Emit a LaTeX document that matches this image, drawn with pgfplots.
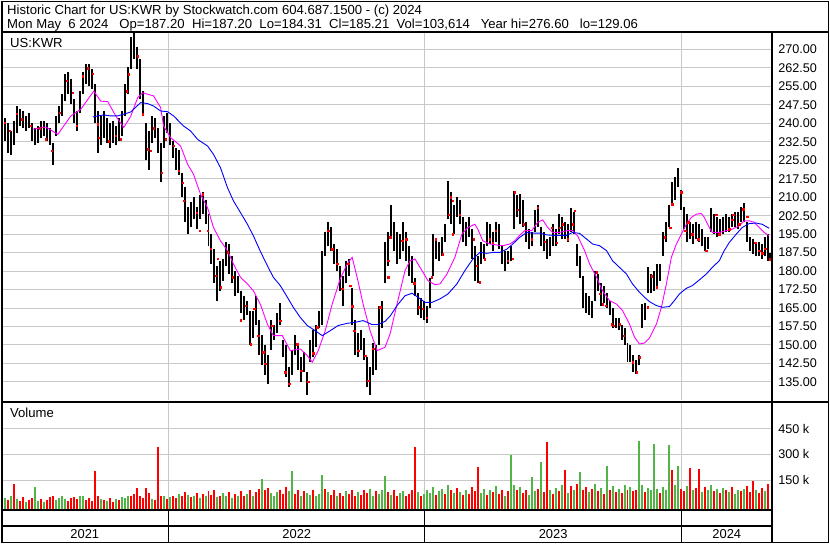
\documentclass[border=0pt]{standalone}
\usepackage{fontspec}
\setmainfont{Liberation Sans}
\usepackage{pgfplots}
\usepackage{pgfplotstable}
\pgfplotsset{compat=1.18}
\definecolor{gridgray}{RGB}{200,200,200}
\definecolor{vred}{RGB}{255,0,0}
\definecolor{vgreen}{RGB}{80,180,70}
\definecolor{magline}{RGB}{255,0,255}
\definecolor{blueline}{RGB}{0,0,255}

\pgfplotstableread{
x lo hi
1 229 238
4 233 242
7 228 240
10 227 237
13 231 241
16 236 247
19 239 246
22 238 245
25 237 243
28 238 244
31 233 240
34 231 238
37 232 239
40 234 241
43 235 241
46 233 240
49 231 238
52 223 232
55 235 243
58 240 247
61 243 252
64 249 260
67 252 261
70 248 258
73 240 250
76 237 245
79 244 253
82 252 261
85 256 264
88 255 264
91 254 262
94 240 256
97 228 245
100 231 243
103 234 245
106 232 242
109 230 240
112 232 241
115 231 239
118 233 242
121 235 245
124 243 256
127 252 263
130 262 275
133 266 276.6
136 262 271
139 250 266
142 243 253
145 225 240
148 221 237
151 232 243
154 234 242
157 228 238
160 216 232
163 230 243
166 236 244
169 231 240
172 226 233
175 221 230
178 219 229
181 210 220
184 200 214
187 195 206
190 198 208
193 201 210
196 197 206
199 201 211
202 203 212
205 199 209
208 190 203
211 183 195
214 175 189
217 168 182
220 172 184
223 176 185
226 182 192
229 179 191
232 175 186
235 170 180
238 171 178
241 163 172
244 160 170
247 162 168
250 150 164
253 153 164
256 158 170
259 146 160
262 142 154
265 138 150
268 134 146
271 148 160
274 152 158
277 155 163
280 158 167
283 145 152
286 137 150
289 133 141
292 138 148
295 146 154
298 140 150
301 135 145
304 139 147
307 129.5 139
310 143 152
313 145 156
316 149 158
319 157 164
322 158 188
325 186 196
328 190 199.8
331 188 198
334 183 191
337 180 189
340 172 182
343 166 178
346 175 184
349 178 185
352 158 173
355 146 160
358 145 155
361 148 156
364 144 153
367 133 145
370 129.5 141
373 138 151
376 140 150
379 150 166
382 157 168
385 175 192
388 182 196
391 194 207
394 188 200
397 183 196
400 185 195
403 188 200
406 184 196
409 178 190
412 175 186
415 170 177
418 162 171
421 161 169
424 160 168
427 159 166
430 165 177
433 178 195
436 185 193
439 184 192
442 186 194
445 192 199
448 201 216.6
451 199 212
454 195 207
457 202 210
460 199 209
463 192 202
466 190 200
469 194 202
472 185 197
475 176 190
478 175 186
481 183 192
484 185 191
487 190 200
490 191 199
493 188 196
496 192 200
499 189 199
502 183 190
505 180 188
508 183 188
511 184 190
514 197 212.6
517 202 211
520 199 211.3
523 198 209
526 192 200
529 189 197
532 190 196
535 196 205
538 198 207
541 190 198
544 188 196
547 185 193
550 186 194
553 190 199
556 190 197
559 195 203
562 193 202
565 193 200
568 192 199
571 196 205.8
574 195 204
577 182 191
580 177 186
583 165 178
586 163 171
589 162 170
592 161 168
595 168 180
598 172 179
601 166 175
604 167 174
607 165 171
610 162 168
613 157 165
616 157 161
619 156 161
622 152 158
625 150 157
628 143 151
631 143 150
634 139 146
637 138.3 144
640 142 146
643 157 166.6
646 160 167
649 171 181.5
652 171 179
655 172 180
658 173 183
661 176 183
664 186 196
667 192 200
670 198 207
673 207 216
676 209 218
679 214 222
682 205 213
685 197 206
688 192 203
691 193 200
694 191 199
697 193 200
700 192 199
703 190 197
706 188 194
709 189 194
712 196 205.8
715 195 203
718 194 202
721 195 201
724 195 202
727 196 203
730 196 202
733 198 203
736 198 204
739 197 204
742 200 206
745 200 207.8
748 192 200
751 188 194
754 187 193
757 186 192
760 186 192
763 185 191
766 186 194
769 184 195
771 184.3 187.2
}\pricedata

\pgfplotstableread{
x v
1 150
7 35
13 125
19 30
22 50
28 35
31 45
40 40
46 35
49 50
52 60
67 30
70 45
73 50
76 40
85 35
88 45
91 30
94 204
97 55
103 35
109 45
112 25
118 35
130 55
133 70
136 105
139 60
142 45
145 105
148 75
154 35
157 344
160 60
166 40
172 60
175 45
181 55
184 80
190 50
196 75
202 70
208 85
211 65
214 90
220 60
229 80
235 70
241 85
244 55
250 95
256 80
259 100
265 90
268 105
280 95
283 70
286 110
295 70
298 90
304 85
313 95
325 100
331 65
334 90
340 75
343 60
349 70
352 95
355 60
361 65
364 90
367 75
376 85
388 80
394 90
397 60
406 55
409 70
412 95
415 344
421 60
436 65
445 70
451 90
457 105
463 65
469 70
472 110
475 85
478 228
487 65
493 80
499 70
502 95
508 85
517 95
523 75
526 90
538 100
544 80
547 373
553 70
559 85
565 210
571 115
577 130
583 95
586 110
592 100
598 85
604 70
610 95
616 80
622 75
628 90
634 85
637 95
646 80
661 75
673 210
682 100
685 85
691 222
697 105
700 216
706 110
715 85
721 75
727 90
733 110
742 85
748 115
751 80
754 144
760 75
763 105
769 125
}\volred

\pgfplotstableread{
x v
4 45
10 55
16 40
25 25
34 108
37 30
43 25
55 35
58 45
61 55
64 40
79 55
82 60
100 40
106 30
115 40
121 50
124 45
127 60
151 40
163 55
169 50
178 70
187 65
193 60
199 45
205 55
217 50
223 75
226 55
232 45
238 60
247 70
253 60
262 155
271 75
274 60
277 80
289 85
292 204
301 60
307 75
310 65
316 55
319 70
322 178
328 80
337 55
346 85
358 80
370 100
373 55
379 70
382 95
385 172
391 65
400 75
403 85
418 80
424 70
427 95
430 75
433 110
439 85
442 100
448 120
454 75
460 80
466 95
481 75
484 100
490 90
496 115
505 60
511 296
514 120
520 110
529 65
532 170
535 85
541 257
550 95
556 105
562 120
568 75
574 90
580 200
589 80
595 125
601 105
607 233
613 115
619 100
625 120
631 110
640 377
643 120
649 105
652 90
655 360
658 100
664 110
667 95
670 354
676 120
679 233
688 115
694 90
703 80
709 95
712 120
718 100
724 105
730 80
736 70
739 95
745 100
757 90
766 85
}\volgreen

\pgfplotsset{
  panel/.style={
    scale only axis, width=773bp, xmin=0, xmax=773,
    axis line style={draw=none}, major tick length=0pt,
    xtick={168,425,682}, xticklabels={},
    xmajorgrids, ymajorgrids,
    grid style={draw=gridgray, line width=1bp},
    yticklabel pos=right,
    yticklabel style={anchor=west, inner sep=0pt, xshift=6bp, font=\fontsize{12.7}{14}\selectfont},
    /pgf/number format/assume math mode=true,
  }
}

\begin{document}
\begin{tikzpicture}[x=1bp,y=1bp]
\fill[white] (0bp,0bp) rectangle (830bp,543bp);

% price panel
\begin{axis}[panel, at={(0bp,143bp)}, anchor=south west, height=369bp,
  ymin=127.55, ymax=277.0,
  ytick={135,142.5,150,157.5,165,172.5,180,187.5,195,202.5,210,217.5,225,232.5,240,247.5,255,262.5,270},
  yticklabels={135.00,142.50,150.00,157.50,165.00,172.50,180.00,187.50,195.00,202.50,210.00,217.50,225.00,232.50,240.00,247.50,255.00,262.50,270.00}]
\addplot[black, line width=2bp, mark=none, quiver={u=0, v=\thisrow{hi}-\thisrow{lo}}]
  table[x=x, y=lo] {\pricedata};
\addplot[only marks, mark=square*, mark size=0.7bp, color=vred] coordinates {
(4,240.3)(9,237)(16,243.9)(21,241.6)(30,239)(39,238)(45,233.5)(51,228.8)(59,244.3)(66,257.4)(72,252.4)(76,239)(82,259.2)(87,262.3)(92,260.1)(97,239.6)(98,234.2)(108,232.8)(115,234.9)(120,233.5)(126,253.1)(128,259.9)
(137,267.3)(142,243.7)(147,229.5)(150,228.8)(153,238)(161,220)(165,233.5)(173,230.8)(178,220.7)(182,216)(183,208.5)(196,203.8)(199,196.4)(202,211.2)(207,196.4)(210,189)(215,178.2)(217,185)(220,173.5)(227,187.6)(232,177.5)(240,160)(245,166)(250,150.4)(254,164.7)(258,153.8)
(263,147)(265,142.3)(272,157.9)(280,159.9)(285,138.9)(289,134.3)(297,150.4)(301,139.6)(308,135)(313,146.7)(317,157.2)(328,196.4)(332,188.9)(337,182.9)(342,172.8)(348,182.9)(350,174)(352,165.7)(354,155.8)(358,147.7)(365,145.7)(368,135.6)(373,148.4)(380,165.3)(388,184.2)(388,177.5)
(390,193.7)(402,192.3)(406,193)(414,175.1)(419,165.3)(423,164.7)(427,161.2)(432,177.5)(436,193)(443,186.9)(449,203)(451,210)(453,208.5)(453,195)(460,203)(474,193)(477,182.2)(480,175.5)(485,184.9)(490,193)(493,191.6)(496,196.4)(508,184.2)(513,185)(515,212)(518,205)
(524,199)(532,193)(538,205.8)(545,192)(552,197.7)(557,191.6)(560,197.7)(563,199)(568,193)(573,199)(575,204.5)(597,179.5)(600,170.7)(603,166.6)(606,166)(612,158.5)(614,157.9)(620,158.5)(624,153.8)(633,143)(637,138.9)(640,145)(648,165.3)
(652,178)(657,173.4)(665,193.7)(671,197.7)(673,207.2)(682,212)(686,196.4)(689,199.8)(693,195)(699,193)(707,188.3)(717,202.8)(720,195)(730,197)(733,200.8)(734,202.9)(740,199)(744,205.2)(748,202)(756,191.6)(760,188.3)(763,187.3)(766,189)(771,184.9)};
\addplot[color=magline, line width=0.9bp, mark=none] coordinates {
(32,237.6)(45,238.5)(57,235.5)(70,243)(80,245.7)(93,253.1)(100,249)(107,248.8)(115,243)(123,238.3)(130,242.8)(137,250.4)(142,252.4)(153,251.1)(160,246.4)(163,238.9)(170,234.2)(180,230.8)(187,223.4)(193,219.3)(200,211.2)(207,205.8)(213,197.7)(220,192.3)(227,188.3)(233,182.9)(240,177.5)(247,174.8)(253,172)(260,166.5)(267,158.5)(273,153.8)(282,153.8)(290,147.7)(300,148.4)(307,145.7)(312,143)(318,147.7)(325,155.8)(332,166.6)(340,176.8)(347,182.9)(352,185.6)(357,177.5)(363,166.6)(370,155.8)(377,147.7)(385,149.1)(390,154.5)(397,166.6)(405,180.2)(410,184.2)(415,184.9)(422,180.2)(428,176.1)(435,174.5)(440,174.8)(447,178.8)(455,185.6)(462,195)(468,197.7)(475,199)(478,197)(483,192.3)(490,191)(497,190.6)(503,190.3)(510,191)(515,192.3)(520,194.6)(525,196.4)(532,196.4)(538,199.8)(543,200.8)(548,197.7)(553,195.7)(560,195.7)(567,196.4)(573,196.4)(578,194.3)(585,188.3)(590,182.9)(597,177.5)(603,172)(610,168)(617,166.6)(623,164)(630,158.5)(635,153.2)(640,150.4)(645,150.8)(650,152.8)(657,158.5)(662,165.3)(667,174.8)(672,185.6)(677,191)(682,195)(687,199)(692,201.8)(697,203.1)(702,203.4)(705,201.8)(710,197.7)(713,195.7)(720,195.7)(727,196.4)(733,197)(740,198.4)(745,200.4)(750,200.4)(755,199.8)(760,197.7)(765,195.7)(770,194.3)};
\addplot[color=blueline, line width=0.9bp, mark=none] coordinates {
(92,242.6)(103,243.4)(110,243)(117,243)(123,243.7)(130,244.6)(140,248.4)(147,248)(153,247)(160,245)(167,244.7)(173,243)(183,238.9)(190,236.9)(197,233.5)(207,230.8)(213,227.4)(220,222)(227,213.9)(233,208.5)(240,203.8)(247,199)(253,194.3)(260,188)(267,182.2)(273,177.5)(280,174.1)(287,169.4)(293,165.3)(300,161.2)(307,157.9)(315,155.8)(322,153.8)(330,155.8)(338,157.9)(347,158.8)(355,159.2)(363,159.9)(372,158.3)(378,158.3)(385,159.6)(390,161.7)(397,166)(405,170)(412,171)(418,169.4)(425,167.3)(432,167.3)(440,168.7)(448,170.7)(457,174.8)(465,180.2)(473,184.9)(480,187.6)(487,187.2)(493,187.6)(500,187.6)(507,188.9)(513,191)(520,193.7)(527,195.7)(533,195.4)(540,195.4)(547,194.7)(553,194.5)(560,194.5)(567,194.5)(573,195.7)(580,195.3)(587,193)(593,191)(600,190.3)(607,188.3)(613,184.2)(620,181.5)(627,178.8)(633,174.8)(640,171.4)(645,169.4)(650,167.6)(657,166)(663,165.3)(670,165.6)(675,168)(680,170.7)(687,173)(693,174.1)(700,176.4)(707,178.8)(713,181.5)(720,184.2)(725,188.3)(730,191.6)(737,195)(743,197.7)(750,199.3)(757,199.5)(763,199)(770,197.4)};
\end{axis}

% volume panel
\begin{axis}[panel, at={(0bp,33.5bp)}, anchor=south west, height=106.5bp,
  ymin=-21.5, ymax=597.5,
  ytick={150,300,450}, yticklabels={150 k,300 k,450 k}]
\addplot[vgreen, line width=2bp, mark=none, quiver={u=0, v=-\thisrow{v}-40}]
  table[x=x, y=v] {\volgreen};
\addplot[vred, line width=2bp, mark=none, quiver={u=0, v=-\thisrow{v}-40}]
  table[x=x, y=v] {\volred};
\end{axis}

% frame and separators
\draw[line width=2bp] (0bp,512.5bp) -- (830bp,512.5bp);
\draw[line width=2bp] (0bp,141.5bp) -- (830bp,141.5bp);
\draw[line width=1.6bp] (0bp,33bp) -- (773bp,33bp);
\draw[line width=1.6bp] (0bp,16.8bp) -- (773bp,16.8bp);
\draw[line width=2bp] (773bp,0bp) -- (773bp,512.5bp);
\foreach \xx in {168,425,682} \draw[line width=1bp] (\xx bp,0bp) -- (\xx bp,33bp);
\draw[line width=1bp] (0.5bp,0.5bp) rectangle (829.5bp,542.5bp);
\draw[line width=2.5bp] (1.25bp,0bp) -- (1.25bp,543bp);

% header
\begin{scope}[every node/.style={anchor=base west, inner sep=0pt, font=\fontsize{13.2}{15}\selectfont}]
\node at (6bp,529.7bp) {Historic Chart for US:KWR by Stockwatch.com 604.687.1500 - (c) 2024};
\node at (6bp,515.7bp) {Mon May~~6 2024~~~Op=187.20~~Hi=187.20~~Lo=184.31~~Cl=185.21~~Vol=103,614~~~Year hi=276.60~~~lo=129.06};
\node at (9bp,496.3bp) {US:KWR};
\node at (9bp,125.7bp) {Volume};
\end{scope}
\begin{scope}[every node/.style={anchor=base, inner sep=0pt, font=\fontsize{13}{15}\selectfont}]
\node at (84bp,4bp) {2021};
\node at (296.5bp,4bp) {2022};
\node at (553.5bp,4bp) {2023};
\node at (727.5bp,4bp) {2024};
\end{scope}
\end{tikzpicture}
\end{document}
